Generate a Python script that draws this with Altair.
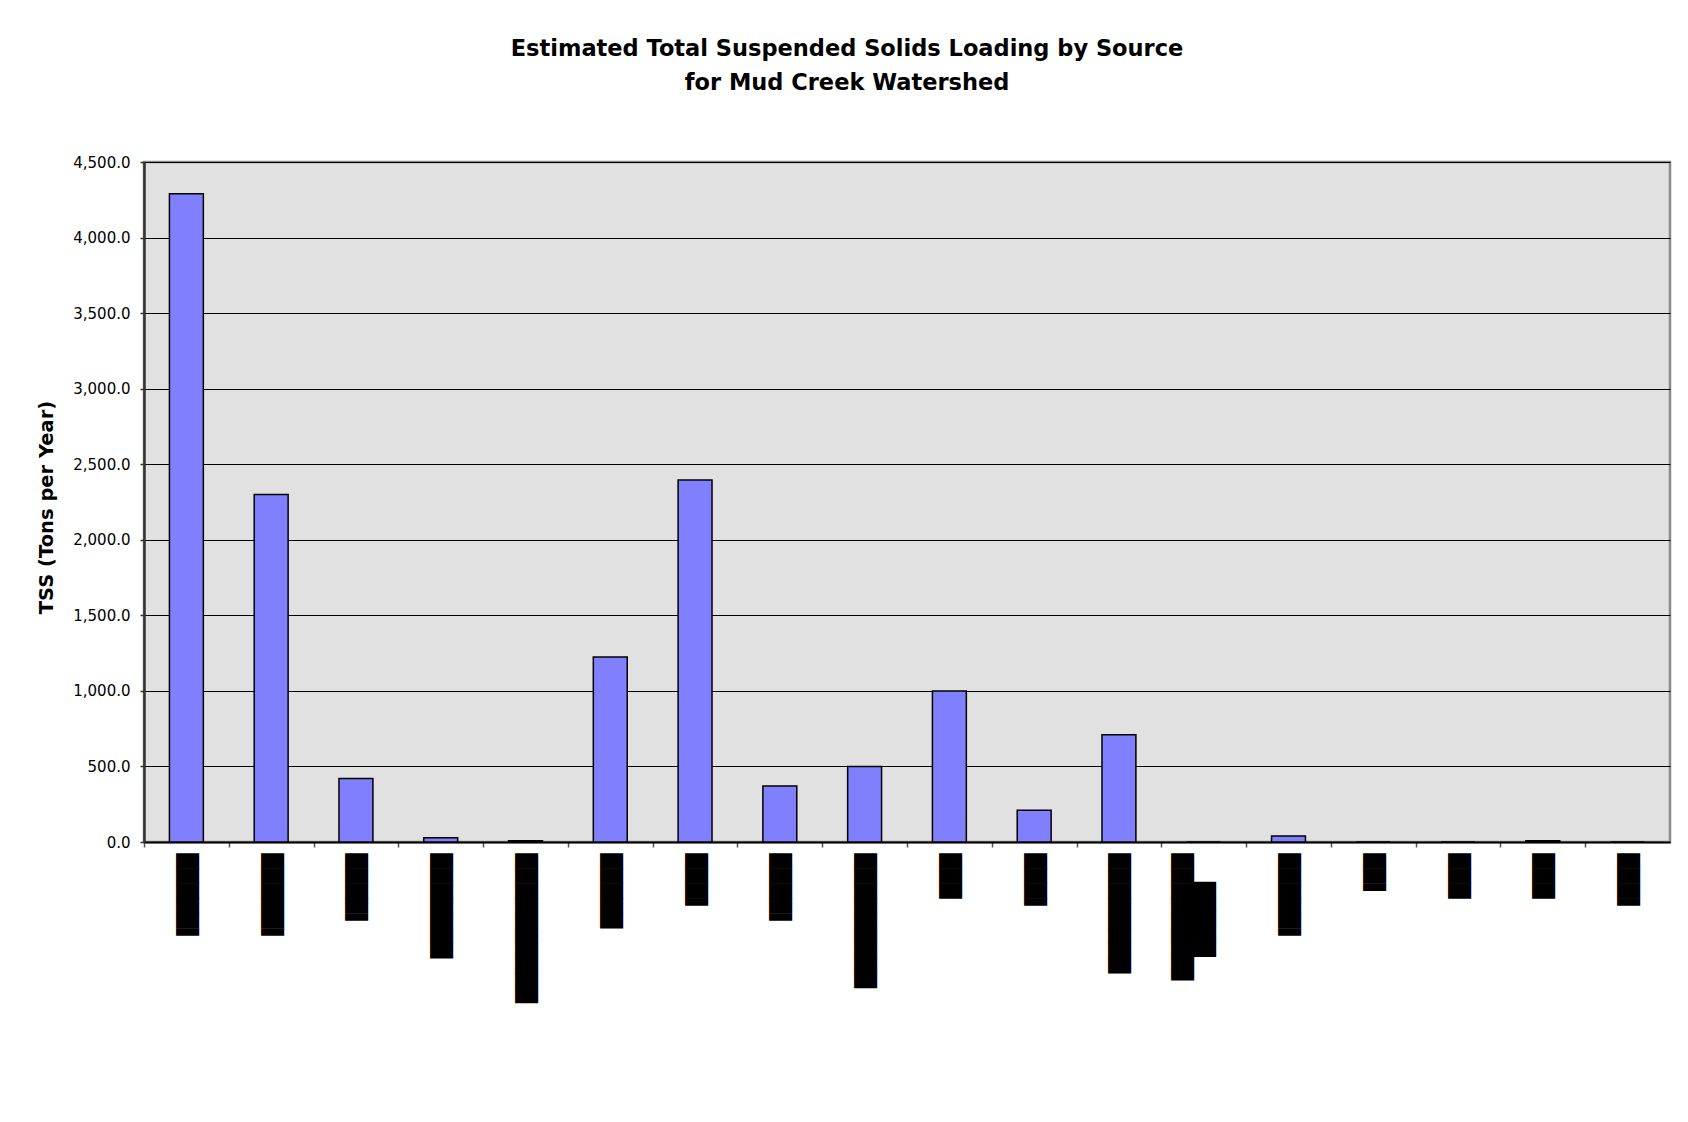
import json
import altair as alt
import pandas as pd

# ---- data ----
categories = [str(i) for i in range(1, 19)]
tss_values = [4290, 2300, 420, 28, 8, 1225, 2395, 370, 500, 1000, 210, 710, 0, 40, 0, 0, 8, 0]

# redacted x labels (black blocks), as text
B = "\u2588"
H = "\u258c"
SP = "\u2800"
x_labels = [
    B * 5 + H, B * 5 + H, B * 4 + H, B * 7, B * 10, B * 5, B * 3 + H, B * 4 + H, B * 9, B * 3,
    B * 3 + H, B * 8, [SP * 2 + B * 5, B * 8 + H], B * 5 + H, B * 2 + H, B * 3, B * 3, B * 3 + H,
]

title_lines = ["Estimated Total Suspended Solids Loading by Source", "for Mud Creek Watershed"]
y_title = "TSS (Tons per Year)"
y_ticks = [0, 500, 1000, 1500, 2000, 2500, 3000, 3500, 4000, 4500]

df = pd.DataFrame({"cat": categories, "tss": tss_values})

W, H_ = 1526, 680
step = W / len(categories)

label_expr = json.dumps(x_labels, ensure_ascii=False) + "[toNumber(datum.value) - 1]"

chart = (
    alt.Chart(df)
    .mark_bar(fill="#8080ff", stroke="#000000", strokeWidth=1.5)
    .encode(
        x=alt.X(
            "cat:N",
            sort=categories,
            scale=alt.Scale(paddingInner=0.6, paddingOuter=0.3),
            axis=alt.Axis(
                title=None,
                labelExpr=label_expr,
                labelAngle=90,
                labelAlign="left",
                labelBaseline="middle",
                labelFont="DejaVu Sans",
                labelFontSize=19.455,
                labelLineHeight=22,
                labelColor="#000000",
                labelPadding=6,
                labelLimit=600,
                labelOverlap=False,
                labelFlush=False,
                tickOffset=-step / 2,
                labelOffset=step / 2,
                tickSize=5,
                tickColor="#555555",
                tickWidth=1.5,
                domainColor="#000000",
                domainWidth=2,
                grid=False,
            ),
        ),
        y=alt.Y(
            "tss:Q",
            scale=alt.Scale(domain=[0, 4500], nice=False),
            axis=alt.Axis(
                title=y_title,
                titleFont="DejaVu Sans",
                titleFontSize=19.5,
                titleFontWeight="bold",
                titleColor="#000000",
                titlePadding=16,
                titleY=345,
                values=y_ticks,
                format=",.1f",
                labelFont="DejaVu Sans",
                labelFontSize=15,
                labelColor="#000000",
                labelPadding=10,
                tickSize=4,
                tickColor="#333333",
                tickWidth=1.5,
                domainColor="#333333",
                domainWidth=2.5,
                grid=True,
                gridColor="#000000",
                gridWidth=1,
            ),
        ),
    )
    .properties(
        width=W,
        height=H_,
        title=alt.TitleParams(
            text=title_lines,
            font="DejaVu Sans",
            fontSize=22.5,
            fontWeight="bold",
            color="#000000",
            lineHeight=34,
            anchor="middle",
            frame="group",
            dx=-60,
            offset=61,
        ),
        padding={"left": 136, "top": 154, "right": 10, "bottom": 260},
        autosize=alt.AutoSizeParams(type="none"),
        background="#ffffff",
    )
    .configure_view(fill="#e1e1e1", stroke="#8a8a8a", strokeWidth=2.5)
)

chart.save("out.html", embed_options={"renderer": "svg", "actions": False})
